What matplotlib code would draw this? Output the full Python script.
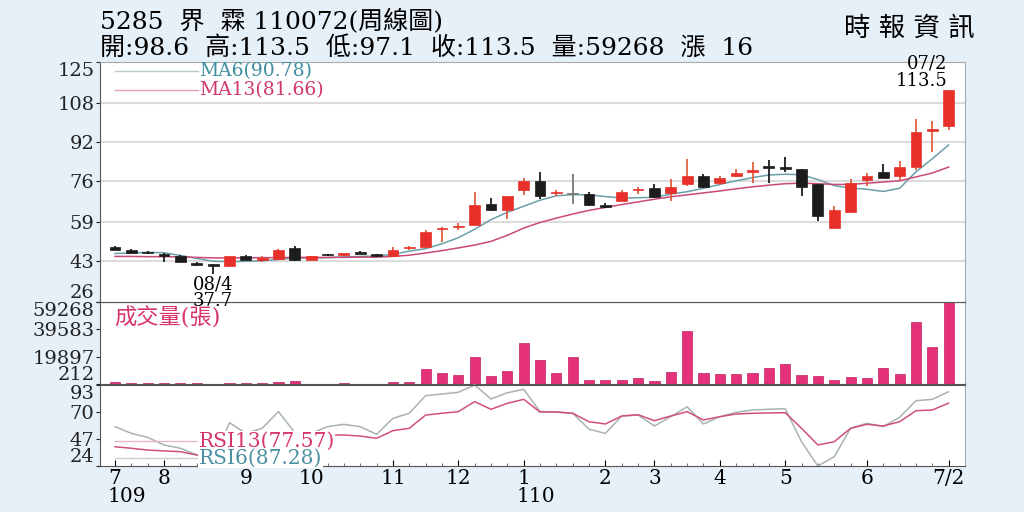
import numpy as np
import matplotlib
matplotlib.use("Agg")
import matplotlib.pyplot as plt
import matplotlib.transforms as mtransforms

plt.rcParams['font.family'] = ['DejaVu Serif', 'Noto Sans CJK TC']

# weekly candles, 109/07 .. 110/07/02
opens = [48.6, 47.5, 46.5, 45.7, 44.9, 41.9, 41.3, 40.8, 44.9, 43.3,
         43.8, 48.2, 43.4, 45.7, 45.3, 46.5, 45.6, 44.8, 48.2, 48.6,
         56.2, 57.0, 57.6, 66.4, 64.1, 72.2, 75.9, 70.8, 70.6, 70.5,
         65.9, 67.8, 72.1, 73.2, 70.9, 74.6, 78.1, 75.0, 77.9, 79.6,
         82.0, 81.7, 80.9, 74.7, 56.4, 63.0, 76.3, 79.6, 78.1, 81.5,
         96.5, 98.6]
highs = [49.2, 47.8, 47.0, 46.3, 45.2, 42.3, 41.6, 45.0, 45.4, 45.0,
         47.8, 49.3, 45.0, 46.0, 46.3, 47.2, 45.8, 48.7, 49.0, 55.8,
         56.8, 58.4, 71.2, 68.9, 69.9, 77.2, 79.7, 72.2, 78.6, 71.3,
         66.8, 72.0, 73.5, 74.8, 76.6, 84.8, 78.8, 77.9, 80.7, 83.6,
         84.4, 85.8, 80.9, 74.7, 65.5, 76.9, 79.4, 82.8, 84.0, 101.6,
         100.7, 113.5]
lows = [47.3, 46.0, 45.6, 42.7, 42.3, 41.0, 37.7, 40.5, 43.3, 42.5,
        43.2, 43.0, 43.2, 45.0, 45.1, 45.6, 44.6, 44.5, 47.5, 48.3,
        50.6, 55.9, 57.3, 63.6, 60.3, 70.2, 68.6, 69.8, 66.4, 65.8,
        64.6, 67.5, 70.7, 69.2, 67.5, 74.0, 73.2, 74.4, 77.6, 75.0,
        75.2, 79.7, 69.8, 59.4, 56.4, 63.0, 73.9, 77.0, 76.3, 80.3,
        87.8, 97.1]
closes = [47.6, 46.3, 46.2, 45.0, 42.5, 41.2, 41.0, 44.9, 43.4, 44.2,
          47.6, 43.3, 44.9, 45.5, 46.1, 45.7, 44.9, 47.5, 48.4, 55.0,
          56.4, 57.2, 66.2, 63.8, 69.8, 75.9, 69.9, 71.0, 70.6, 66.2,
          65.2, 71.2, 72.3, 69.5, 73.6, 78.1, 73.6, 77.3, 79.3, 80.4,
          81.1, 81.0, 73.6, 61.4, 63.8, 75.0, 77.9, 77.0, 81.7, 96.2,
          97.2, 113.5]
ma6 = [46.0, 46.2, 46.5, 46.3, 45.2, 44.0, 42.8, 42.6, 42.8, 43.0,
       43.5, 44.3, 44.0, 44.3, 44.6, 44.8, 45.0, 45.6, 47.0, 48.0,
       50.0, 52.5, 56.0, 60.0, 63.0, 65.5, 68.0, 69.8, 70.3, 70.2,
       69.5, 68.9, 69.0, 69.2, 70.5, 71.5, 72.9, 74.5, 76.0, 77.3,
       78.4, 78.7, 78.5, 76.5, 74.0, 73.0, 72.5, 71.6, 72.9, 79.7,
       85.1, 90.78]
ma13 = [44.8, 44.8, 44.7, 44.7, 44.6, 44.4, 44.2, 44.2, 44.2, 44.3,
        44.3, 44.4, 44.4, 44.4, 44.4, 44.5, 44.5, 44.8, 45.3, 46.2,
        47.2, 48.3, 49.5, 51.0, 53.5, 56.5, 58.8, 60.6, 62.3, 63.8,
        65.0, 66.2, 67.3, 68.4, 69.4, 70.2, 71.0, 71.8, 72.7, 73.5,
        74.2, 74.8, 75.0, 74.8, 74.5, 74.5, 75.0, 75.5, 76.0, 77.6,
        79.2, 81.66]
volume = [1500, 1000, 600, 1200, 1000, 600, 500, 1100, 1200, 900,
          1800, 2100, 300, 300, 900, 300, 200, 1500, 1300, 11000,
          8400, 6700, 20000, 6000, 9400, 29900, 17600, 8000, 19300, 3400,
          2900, 3400, 4600, 2400, 8900, 38500, 8000, 7200, 7500, 8000,
          12000, 14700, 6700, 5800, 3100, 5500, 4300, 11800, 7200, 44800,
          27000, 59268]
rsi6 = [57.5, 51.8, 48.4, 41.9, 39.1, 33.4, 28.0, 60.9, 51.8, 56.1,
        70.3, 52.4, 51.8, 57.5, 59.5, 57.5, 51.0, 64.6, 68.9, 83.9,
        85.3, 86.8, 93.0, 81.1, 86.4, 89.3, 70.5, 70.0, 68.9, 55.3,
        51.8, 66.6, 67.4, 58.1, 66.0, 74.5, 59.8, 66.0, 69.7, 71.7,
        72.3, 72.8, 44.7, 24.0, 31.9, 56.1, 60.4, 57.5, 65.5, 79.6,
        80.8, 87.28]
rsi13 = [40.4, 39.1, 37.6, 36.8, 36.2, 33.4, 31.0, 43.0, 44.0, 46.0,
         51.0, 49.0, 50.0, 50.5, 50.4, 49.5, 47.6, 54.1, 56.1, 67.4,
         68.9, 70.3, 78.8, 72.3, 77.4, 80.8, 70.0, 70.0, 68.9, 61.7,
         59.8, 66.6, 67.7, 62.6, 66.6, 70.3, 63.2, 66.0, 68.3, 68.9,
         69.2, 69.4, 56.1, 41.9, 44.7, 56.1, 59.5, 58.1, 61.7, 71.1,
         71.7, 77.57]

price_ticks = [26, 43, 59, 76, 92, 108, 125]
vol_ticks = [212, 19897, 39583, 59268]
rsi_ticks = [24, 47, 70, 93]
month_pos = [0, 3, 8, 12, 17, 21, 25, 30, 33, 37, 41, 46, 51]
month_labels = ['7', '8', '9', '10', '11', '12', '1', '2', '3', '4', '5', '6', '7/2']
year_pos = [0, 25]
year_labels = ['109', '110']

RED = '#e8302a'
RED_WICK = '#e0603f'
BLACK = '#1c1c1c'
PINK = '#e5307a'
MA6_C = '#6a9ea8'
MA13_C = '#c94a78'


def style_axis(ax, ticks, labels):
    ax.set_yticks(ticks, labels)
    ax.tick_params(axis='y', labelsize=14, length=3, pad=1, colors='#222222')
    labs = ax.get_yticklabels()
    labs[0].set_va('bottom')
    labs[-1].set_va('top')
    ax.set_facecolor('white')
    for side in ['left', 'bottom']:
        ax.spines[side].set_color('#555555')
    for side in ['right', 'top']:
        ax.spines[side].set_color('#aaaaaa')


def main():
    n = len(closes)
    x = np.arange(n)
    fig = plt.figure(figsize=(10.24, 5.12), dpi=100, facecolor='#e6f0f8')
    L, W = 100 / 1024, 865 / 1024
    ax1 = fig.add_axes([L, 1 - 302 / 512, W, 240 / 512])
    ax2 = fig.add_axes([L, 1 - 384 / 512, W, 82 / 512])
    ax3 = fig.add_axes([L, 1 - 466 / 512, W, 81 / 512])
    ax1.set_zorder(3)
    for ax in (ax1, ax2, ax3):
        ax.set_xlim(-0.92, 52.0)

    # price panel
    ax1.set_ylim(26, 125)
    style_axis(ax1, price_ticks, [str(t) for t in price_ticks])
    for t in price_ticks[1:-1]:
        ax1.axhline(t, color='#dcdcdc', lw=1.5, zorder=0)
    ax1.plot(x, ma6, color=MA6_C, lw=1.1, zorder=2)
    ax1.plot(x, ma13, color=MA13_C, lw=1.1, zorder=2)

    o = np.array(opens); c = np.array(closes)
    h = np.array(highs); lo = np.array(lows)
    cols = [RED if cc > oo else (BLACK if cc < oo else '#777777') for oo, cc in zip(o, c)]
    wcols = [RED_WICK if cc > oo else (BLACK if cc < oo else '#777777') for oo, cc in zip(o, c)]
    ax1.vlines(x, lo, h, colors=wcols, lw=1.3, zorder=3)
    bottoms = np.minimum(o, c)
    heights = np.maximum(np.abs(c - o), 0.5)
    ax1.bar(x, heights, bottom=bottoms, width=0.66, color=cols,
            edgecolor=cols, lw=0.5, zorder=4)

    ax1.plot([0.017, 0.113], [0.963, 0.963], transform=ax1.transAxes, color='#b8c8cc', lw=1)
    ax1.plot([0.017, 0.113], [0.885, 0.885], transform=ax1.transAxes, color='#e0a0b8', lw=1)
    ax1.text(0.114, 0.963, f'MA6({ma6[-1]:.2f})', transform=ax1.transAxes,
             color='#3f8fa0', fontsize=13.5, va='center')
    ax1.text(0.114, 0.885, f'MA13({ma13[-1]:.2f})', transform=ax1.transAxes,
             color='#d0386a', fontsize=13.5, va='center')

    last = n - 1
    ax1.annotate(f'{highs[last]:.1f}', (last, highs[last]), xytext=(-1, 0),
                 textcoords='offset pixels', ha='right', va='bottom', fontsize=13,
                 annotation_clip=False)
    ax1.annotate('07/2', (last, highs[last]), xytext=(-1, 17),
                 textcoords='offset pixels', ha='right', va='bottom', fontsize=13,
                 annotation_clip=False)
    imin = int(np.argmin(lo))
    ax1.annotate('08/4', (imin, lows[imin]), xytext=(0, -2),
                 textcoords='offset pixels', ha='center', va='top', fontsize=13,
                 annotation_clip=False, zorder=6)
    ax1.annotate(f'{lows[imin]:.1f}', (imin, lows[imin]), xytext=(0, -18),
                 textcoords='offset pixels', ha='center', va='top', fontsize=13,
                 annotation_clip=False, zorder=6)
    ax1.tick_params(axis='x', bottom=False, labelbottom=False)

    # volume panel
    ax2.set_ylim(vol_ticks[0], vol_ticks[-1])
    style_axis(ax2, vol_ticks, [str(t) for t in vol_ticks])
    ax2.bar(x, volume, width=0.62, color=PINK, edgecolor='#c02060', lw=0.5)
    ax2.text(0.016, 0.80, '成交量(張)', transform=ax2.transAxes, color='#d8336e',
             fontsize=16, va='center')
    ax2.tick_params(axis='x', bottom=False, labelbottom=False)
    ax2.spines['top'].set_color('#555555')

    # rsi panel
    ax3.set_ylim(rsi_ticks[0], rsi_ticks[-1])
    style_axis(ax3, rsi_ticks, [str(t) for t in rsi_ticks])
    ax3.spines['top'].set_color('#555555')
    ax3.plot(x, rsi6, color='#a9b3b3', lw=1.1, clip_on=False)
    ax3.plot(x, rsi13, color='#d0507a', lw=1.1, clip_on=False)
    ax3.plot([0.017, 0.113], [0.31, 0.31], transform=ax3.transAxes, color='#e8b8c8', lw=1)
    ax3.plot([0.017, 0.113], [0.10, 0.10], transform=ax3.transAxes, color='#c8d0d0', lw=1)
    bb = dict(facecolor='white', edgecolor='none', pad=0.5)
    ax3.text(0.114, 0.31, f'RSI13({rsi13[-1]:.2f})', transform=ax3.transAxes,
             color='#d6336c', fontsize=14.5, va='center', bbox=bb, zorder=5)
    ax3.text(0.114, 0.10, f'RSI6({rsi6[-1]:.2f})', transform=ax3.transAxes,
             color='#4a90a0', fontsize=14.5, va='center', bbox=bb, zorder=5)

    ax3.set_xticks(month_pos, month_labels)
    ax3.set_xticks(x, minor=True)
    ax3.tick_params(axis='x', which='major', labelsize=14.5, length=4, direction='in', pad=2)
    ax3.tick_params(axis='x', which='minor', length=2, direction='in', color='#555555')
    trans = mtransforms.blended_transform_factory(ax3.transData, ax3.transAxes)
    for p, lab in zip(year_pos, year_labels):
        ax3.text(p - 0.45, -0.445, lab, transform=trans, fontsize=14.5,
                 ha='left', va='baseline')

    # header
    fig.text(100 / 1024, 1 - 22 / 512, '5285  界  霖 110072(周線圖)', fontsize=18,
             va='center', ha='left')
    fig.text(100 / 1024, 1 - 48 / 512,
             '開:98.6  高:113.5  低:97.1  收:113.5  量:59268  漲  16',
             fontsize=18, va='center', ha='left')
    fig.text(975 / 1024, 1 - 28 / 512, '時 報 資 訊', fontsize=19,
             va='center', ha='right')

    fig.savefig('out.png', dpi=100, facecolor=fig.get_facecolor())


if __name__ == "__main__":
    main()
